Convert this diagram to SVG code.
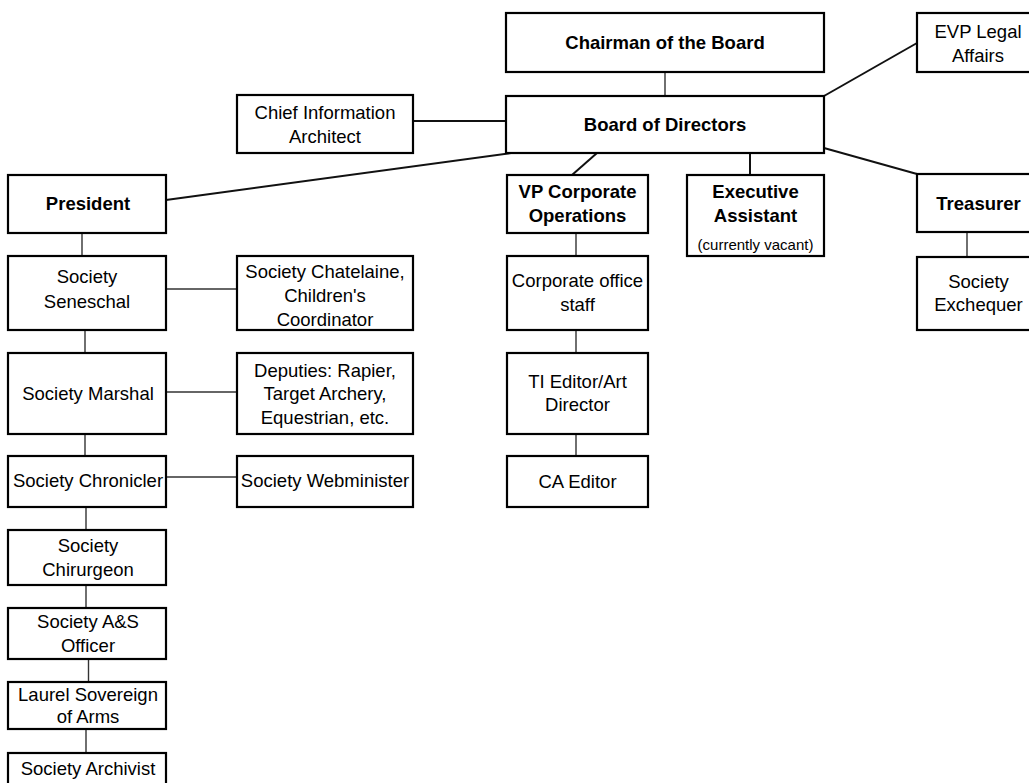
<svg xmlns="http://www.w3.org/2000/svg" width="1029" height="783" viewBox="0 0 1029 783">
<style>
  .box { fill: #fff; stroke: #000; stroke-width: 2.2; }
  .t { font-family: "Liberation Sans", Arial, sans-serif; font-size: 18.5px; fill: #000; text-anchor: middle; }
  .b { font-weight: bold; }
  .s { font-size: 15px; }
  .c { stroke: #111; stroke-width: 2; fill: none; }
  .v { stroke: #333; stroke-width: 1.4; fill: none; }
</style>
<rect width="1029" height="783" fill="#fff"/>
<g id="connectors">
  <line class="v" x1="665" y1="72" x2="665" y2="96"/>
  <line class="c" x1="824" y1="96" x2="917" y2="43"/>
  <line class="c" x1="413" y1="121" x2="506" y2="121"/>
  <line class="c" x1="166" y1="200" x2="511" y2="153"/>
  <line class="c" x1="597" y1="153" x2="572" y2="175"/>
  <line class="c" x1="750" y1="153" x2="750" y2="175"/>
  <line class="c" x1="824" y1="148" x2="917" y2="174"/>
  <line class="v" x1="576" y1="233" x2="576" y2="256"/>
  <line class="v" x1="576" y1="330" x2="576" y2="353"/>
  <line class="v" x1="576" y1="434" x2="576" y2="456"/>
  <line class="v" x1="967" y1="232" x2="967" y2="257"/>
  <line class="v" x1="82" y1="233" x2="82" y2="256"/>
  <line class="v" x1="166" y1="289" x2="237" y2="289"/>
  <line class="v" x1="85" y1="330" x2="85" y2="353"/>
  <line class="v" x1="166" y1="392" x2="237" y2="392"/>
  <line class="v" x1="85" y1="434" x2="85" y2="456"/>
  <line class="v" x1="166" y1="477" x2="237" y2="477"/>
  <line class="v" x1="86" y1="507" x2="86" y2="530"/>
  <line class="v" x1="86" y1="585" x2="86" y2="608"/>
  <line class="v" x1="88.5" y1="659" x2="88.5" y2="682"/>
  <line class="v" x1="86" y1="729" x2="86" y2="753"/>
</g>
<g id="chairman">
  <rect class="box" x="506" y="13" width="318" height="59"/>
  <text class="t b" x="665" y="49">Chairman of the Board</text>
</g>
<g id="evp">
  <rect class="box" x="917" y="13" width="123" height="59"/>
  <text class="t" x="978" y="38">EVP Legal</text>
  <text class="t" x="978" y="62">Affairs</text>
</g>
<g id="board">
  <rect class="box" x="506" y="96" width="318" height="57"/>
  <text class="t b" x="665" y="131">Board of Directors</text>
</g>
<g id="cia">
  <rect class="box" x="237" y="95" width="176" height="58"/>
  <text class="t" x="325" y="119">Chief Information</text>
  <text class="t" x="325" y="143">Architect</text>
</g>
<g id="president">
  <rect class="box" x="8" y="175" width="158" height="58"/>
  <text class="t b" x="88" y="210">President</text>
</g>
<g id="vp">
  <rect class="box" x="507" y="175" width="141" height="58"/>
  <text class="t b" x="577.5" y="198">VP Corporate</text>
  <text class="t b" x="577.5" y="222">Operations</text>
</g>
<g id="ea">
  <rect class="box" x="687" y="175" width="137" height="81"/>
  <text class="t b" x="755.5" y="198">Executive</text>
  <text class="t b" x="755.5" y="222">Assistant</text>
  <text class="t s" x="755.5" y="250">(currently vacant)</text>
</g>
<g id="treasurer">
  <rect class="box" x="917" y="174" width="123" height="58"/>
  <text class="t b" x="978.5" y="210">Treasurer</text>
</g>
<g id="exchequer">
  <rect class="box" x="917" y="257" width="123" height="73"/>
  <text class="t" x="978.5" y="288">Society</text>
  <text class="t" x="978.5" y="311">Exchequer</text>
</g>
<g id="seneschal">
  <rect class="box" x="8" y="256" width="158" height="74"/>
  <text class="t" x="87" y="283">Society</text>
  <text class="t" x="87" y="308">Seneschal</text>
</g>
<g id="chatelaine">
  <rect class="box" x="237" y="256" width="176" height="74"/>
  <text class="t" x="325" y="278">Society Chatelaine,</text>
  <text class="t" x="325" y="302">Children's</text>
  <text class="t" x="325" y="326">Coordinator</text>
</g>
<g id="corp-office">
  <rect class="box" x="507" y="256" width="141" height="74"/>
  <text class="t" x="577.5" y="287">Corporate office</text>
  <text class="t" x="577.5" y="311">staff</text>
</g>
<g id="marshal">
  <rect class="box" x="8" y="353" width="158" height="81"/>
  <text class="t" x="88" y="400">Society Marshal</text>
</g>
<g id="deputies">
  <rect class="box" x="237" y="353" width="176" height="81"/>
  <text class="t" x="325" y="377">Deputies: Rapier,</text>
  <text class="t" x="325" y="400">Target Archery,</text>
  <text class="t" x="325" y="424">Equestrian, etc.</text>
</g>
<g id="ti-editor">
  <rect class="box" x="507" y="353" width="141" height="81"/>
  <text class="t" x="577.5" y="388">TI Editor/Art</text>
  <text class="t" x="577.5" y="411">Director</text>
</g>
<g id="chronicler">
  <rect class="box" x="8" y="456" width="158" height="51"/>
  <text class="t" x="88" y="487">Society Chronicler</text>
</g>
<g id="webminister">
  <rect class="box" x="237" y="456" width="176" height="51"/>
  <text class="t" x="325" y="487">Society Webminister</text>
</g>
<g id="ca-editor">
  <rect class="box" x="507" y="456" width="141" height="51"/>
  <text class="t" x="577.5" y="488">CA Editor</text>
</g>
<g id="chirurgeon">
  <rect class="box" x="8" y="530" width="158" height="55"/>
  <text class="t" x="88" y="552">Society</text>
  <text class="t" x="88" y="576">Chirurgeon</text>
</g>
<g id="as-officer">
  <rect class="box" x="8" y="608" width="158" height="51"/>
  <text class="t" x="88" y="628">Society A&amp;S</text>
  <text class="t" x="88" y="652">Officer</text>
</g>
<g id="laurel">
  <rect class="box" x="8" y="682" width="158" height="47"/>
  <text class="t" x="88" y="701">Laurel Sovereign</text>
  <text class="t" x="88" y="723">of Arms</text>
</g>
<g id="archivist">
  <rect class="box" x="8" y="753" width="158" height="50"/>
  <text class="t" x="88" y="775">Society Archivist</text>
</g>
</svg>
